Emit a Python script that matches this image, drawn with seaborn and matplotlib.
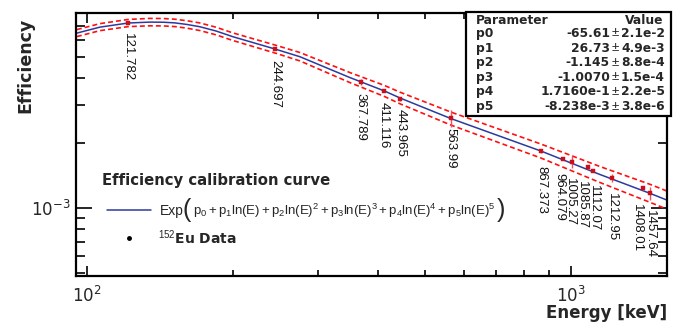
import numpy as np
import pandas as pd
import matplotlib
matplotlib.use('Agg')
import matplotlib.pyplot as plt
import seaborn as sns
from matplotlib.ticker import LogLocator, NullFormatter
from matplotlib.patches import Rectangle
from matplotlib.lines import Line2D

## data

# 152Eu peaks (keV) and efficiencies
energies = [121.782, 244.697, 367.789, 411.116, 443.965, 563.99, 867.373,
            964.079, 1005.27, 1085.87, 1112.07, 1212.95, 1408.01, 1457.64]
eff = [7.21e-3, 5.45e-3, 3.82e-3, 3.49e-3, 3.21e-3, 2.60e-3, 1.84e-3,
       1.68e-3, 1.64e-3, 1.55e-3, 1.49e-3, 1.38e-3, 1.24e-3, 1.17e-3]
eff_err = [0.077e-3, 0.058e-3, 0.122e-3, 0.037e-3, 0.069e-3, 0.231e-3, 0.039e-3,
           0.018e-3, 0.108e-3, 0.033e-3, 0.016e-3, 0.060e-3, 0.027e-3, 0.077e-3]
peak_labels = ['121.782', '244.697', '367.789', '411.116', '443.965', '563.99', '867.373',
               '964.079', '1005.27', '1085.87', '1112.07', '1212.95', '1408.01', '1457.64']

# fit curve and its band (red dashed)
curve_E = [95.4, 106.4, 121.8, 134.9, 144, 152, 161, 171.2, 185, 200, 244.7, 275.5, 349.4,
           411.1, 444, 564, 867.4, 1146, 1457.6, 1578]
curve_eff = [6.458e-3, 6.88e-3, 7.19e-3, 7.26e-3, 7.25e-3, 7.20e-3, 7.08e-3, 6.91e-3, 6.60e-3, 6.22e-3,
             5.45e-3, 5.02e-3, 4.02e-3, 3.49e-3, 3.23e-3, 2.60e-3, 1.836e-3, 1.432e-3, 1.169e-3, 1.089e-3]
band_hi = [6.703e-3, 7.141e-3, 7.471e-3, 7.552e-3, 7.541e-3, 7.489e-3, 7.366e-3, 7.195e-3, 6.873e-3, 6.477e-3,
           5.687e-3, 5.250e-3, 4.240e-3, 3.701e-3, 3.436e-3, 2.786e-3, 1.978e-3, 1.559e-3, 1.287e-3, 1.199e-3]
band_lo = [6.222e-3, 6.628e-3, 6.919e-3, 6.979e-3, 6.969e-3, 6.922e-3, 6.806e-3, 6.636e-3, 6.338e-3, 5.973e-3,
           5.223e-3, 4.800e-3, 3.811e-3, 3.291e-3, 3.036e-3, 2.426e-3, 1.704e-3, 1.315e-3, 1.062e-3, 0.989e-3]

# fit parameters
param_names = ['p0', 'p1', 'p2', 'p3', 'p4', 'p5']
param_vals = ['-65.61', '26.73', '-1.145', '-1.0070', '1.7160e-1', '-8.238e-3']
param_errs = ['2.1e-2', '4.9e-3', '8.8e-4', '1.5e-4', '2.2e-5', '3.8e-6']

# label nudges in pixels (dx, drop below point)
label_shift = [(0, 10), (0, 11), (0, 11), (0, 11), (0, 10), (0, 10), (0, 15),
               (-4, 14), (-2, 16), (-6, 14), (1, 14), (0, 15), (-6, 16), (0, 17)]

sns.set_style('ticks')
plt.rcParams['font.family'] = ['DejaVu Sans']
plt.rcParams['mathtext.fontset'] = 'custom'
plt.rcParams['mathtext.rm'] = 'Liberation Sans'
plt.rcParams['mathtext.it'] = 'Liberation Sans:italic'
plt.rcParams['mathtext.bf'] = 'Liberation Sans:bold'

W, H = 673, 324
fig = plt.figure(figsize=(W / 100, H / 100), dpi=100)
ax = fig.add_axes([76 / W, 48 / H, 591 / W, 263 / H])

def fx(x):
    return x / W

def fy(y):
    return 1 - y / H

curve = pd.DataFrame({'E': curve_E, 'eff': curve_eff, 'hi': band_hi, 'lo': band_lo})
pts = pd.DataFrame({'E': energies, 'eff': eff, 'err': eff_err})

sns.lineplot(data=curve, x='E', y='hi', ax=ax, color='#ff1010', lw=1.2,
             linestyle=(0, (3, 1.8)))
sns.lineplot(data=curve, x='E', y='lo', ax=ax, color='#ff1010', lw=1.2,
             linestyle=(0, (3, 1.8)))
sns.lineplot(data=curve, x='E', y='eff', ax=ax, color='#2c3a9e', lw=1.1)
ax.errorbar(pts['E'], pts['eff'], yerr=pts['err'], fmt='none', ecolor='#f05060',
            elinewidth=1, capsize=0, zorder=3)
sns.scatterplot(data=pts, x='E', y='eff', ax=ax, marker='s', s=8, color='#c8101c',
                edgecolor='#c8101c', linewidth=0.3, zorder=4)

for E, v, lab, (dx, dy) in zip(energies, eff, peak_labels, label_shift):
    ax.annotate(lab, (E, v), xytext=(dx, -dy), textcoords='offset pixels',
                rotation=-90, ha='center', va='top', fontsize=9.5,
                family='Liberation Sans', color='#111111')

ax.set_xscale('log')
ax.set_yscale('log')
ax.set_xlim(95, 1578)
ax.set_ylim(4.85e-4, 8.0e-3)
ax.xaxis.set_minor_locator(LogLocator(base=10, subs=np.arange(2, 10)))
ax.yaxis.set_minor_locator(LogLocator(base=10, subs=np.arange(2, 10)))
ax.xaxis.set_minor_formatter(NullFormatter())
ax.yaxis.set_minor_formatter(NullFormatter())

ax.tick_params(axis='x', which='major', direction='in', length=7, width=1.4,
               top=True, labelsize=12, pad=7)
ax.tick_params(axis='x', which='minor', direction='in', length=4, width=1.4, top=True)
ax.tick_params(axis='y', which='major', direction='in', length=11.5, width=1.4,
               right=True, labelsize=12, pad=4)
ax.tick_params(axis='y', which='minor', direction='in', length=6.5, width=1.4, right=True)
for s in ax.spines.values():
    s.set_linewidth(1.6)
    s.set_color('black')

ax.set_xlabel('Energy [keV]', fontsize=12, fontweight='bold', loc='right')
ax.xaxis.label.set_va('center')
ax.xaxis.set_label_coords(1.0, (276 - 313) / 263)
ax.set_ylabel('Efficiency', fontsize=12.5, fontweight='bold', loc='top')
ax.yaxis.label.set_va('center')
ax.yaxis.set_label_coords((25 - 76) / 591, (276 - 18) / 263)

# parameter table
fig.add_artist(Rectangle((fx(466), fy(116)), 205 / W, 104 / H, transform=fig.transFigure,
                         fc='white', ec='black', lw=1.6, zorder=5))
fig.text(fx(476), fy(21), 'Parameter', fontsize=8.8, fontweight='bold', va='center', zorder=6)
fig.text(fx(663), fy(21), 'Value', fontsize=8.8, fontweight='bold', va='center', ha='right', zorder=6)
for i, (n, v, e) in enumerate(zip(param_names, param_vals, param_errs)):
    yy = fy(33.5 + 14.6 * i)
    fig.text(fx(476), yy, n, fontsize=8.8, fontweight='bold', va='center', zorder=6)
    fig.text(fx(610), yy, v, fontsize=8.8, fontweight='bold', va='center', ha='right', zorder=6)
    fig.text(fx(615.5), yy, '\u00b1', fontsize=9.5, va='center', ha='center',
             family='Liberation Sans', zorder=6)
    fig.text(fx(621), yy, e, fontsize=8.8, fontweight='bold', va='center', ha='left', zorder=6)

# fit legend
fig.text(fx(102), fy(180), 'Efficiency calibration curve', fontsize=10.7, fontweight='bold', va='center')
fig.add_artist(Line2D([fx(107), fx(151)], [fy(209.5), fy(209.5)], color='#2c3a9e', lw=1.1,
                      transform=fig.transFigure))
fig.text(fx(160), fy(211), 'Exp', fontsize=10, family='Liberation Sans', va='center')
fig.text(fx(183), fy(210), '(', fontsize=18, family='Liberation Sans', va='center')
fig.text(fx(193), fy(211),
         r'$\mathrm{p_{0}+p_{1}ln(E)+p_{2}ln(E)^{2}+p_{3}ln(E)^{3}'
         r'+p_{4}ln(E)^{4}+p_{5}ln(E)^{5}}$', fontsize=9.5, va='center')
fig.text(fx(497), fy(210), ')', fontsize=18, family='Liberation Sans', va='center')
fig.add_artist(Line2D([fx(129)], [fy(238)], marker='o', ms=2.5, color='black', lw=0,
                      transform=fig.transFigure))
fig.text(fx(158), fy(238), r'$^{152}$Eu Data', fontsize=10, fontweight='bold', va='center')

fig.savefig('out.png', dpi=100, facecolor='white')
